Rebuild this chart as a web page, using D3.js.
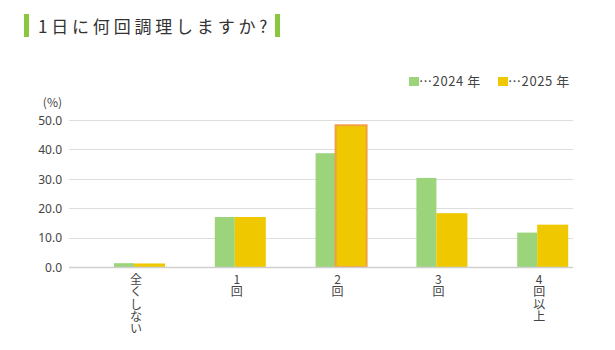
<!DOCTYPE html>
<html><head><meta charset="utf-8">
<script src="https://cdn.jsdelivr.net/npm/d3@7"></script>
<style>body{margin:0;background:#fff}svg{display:block;font-family:"Noto Sans CJK JP","Noto Sans",sans-serif}</style>
</head><body><svg id="c" width="615" height="350"></svg>
<script>
const categories = ["全くしない", "1回", "2回", "3回", "4回以上"];
const categoryLines = [["全","く","し","な","い"], ["1","回"], ["2","回"], ["3","回"], ["4","回","以","上"]];
const seriesNames = ["2024 年", "2025 年"];
const values2024 = [1.3, 17.0, 38.7, 30.3, 11.7];
const values2025 = [1.2, 17.0, 48.2, 18.3, 14.4];
const yTicks = [0, 10, 20, 30, 40, 50];
const highlight2025 = [false, false, true, false, false];

const svg = d3.select("#c");
const colors = ["#9cd47b", "#f0c800"];

// Title
svg.append("rect").attr("x", 24).attr("y", 14).attr("width", 5).attr("height", 23).attr("fill", "#8cc63f");
svg.append("text").attr("x", 38).attr("y", 33).attr("font-size", 17).attr("letter-spacing", 3.8)
  .attr("fill", "#333").text("1日に何回調理しますか?");
svg.append("rect").attr("x", 275).attr("y", 14).attr("width", 5).attr("height", 23).attr("fill", "#8cc63f");

const y = d3.scaleLinear().domain([0, 50]).range([267, 120]);
const x = d3.scaleBand().domain(categories).range([69, 573]).paddingInner(0).paddingOuter(0);

// gridlines
svg.append("g").selectAll("line").data(yTicks.filter(d => d > 0)).join("line")
  .attr("x1", 69).attr("x2", 573).attr("y1", d => Math.round(y(d)) + 0.5).attr("y2", d => Math.round(y(d)) + 0.5)
  .attr("stroke", "#dedede").attr("stroke-width", 1);

// y axis labels
const yAxis = d3.axisLeft(y).tickValues(yTicks).tickFormat(d3.format(".1f")).tickSize(0).tickPadding(0);
const ya = svg.append("g").attr("transform", "translate(62,0)").call(yAxis);
ya.select(".domain").remove();
ya.selectAll("text").attr("font-size", 12).attr("fill", "#444").attr("font-family", "'Noto Sans', sans-serif").attr("dy", "0.35em");
svg.append("text").attr("x", 62).attr("y", 107).attr("text-anchor", "end").attr("font-size", 12).attr("fill", "#444").text("(%)");

// bars
const g = svg.append("g");
const offset = 45, wGreen = 20, wYellow = 31;
g.selectAll(".b24").data(values2024).join("rect")
  .attr("x", (d, i) => x(categories[i]) + offset).attr("width", wGreen)
  .attr("y", d => y(d)).attr("height", d => y(0) - y(d)).attr("fill", colors[0]);
g.selectAll(".b25").data(values2025).join("rect")
  .attr("x", (d, i) => x(categories[i]) + offset + wGreen).attr("width", wYellow)
  .attr("y", d => y(d)).attr("height", d => y(0) - y(d)).attr("fill", colors[1])
  .attr("stroke", (d, i) => highlight2025[i] ? "#f0a040" : "none").attr("stroke-width", 2);

// baseline
svg.append("line").attr("x1", 69).attr("x2", 573).attr("y1", 267.5).attr("y2", 267.5).attr("stroke", "#cfcfcf").attr("stroke-width", 1.5);

// x labels vertical
categories.forEach((c, i) => {
  const cx = x(c) + offset + 25 - 3;
  const t = svg.append("text").attr("text-anchor", "middle").attr("font-size", 12).attr("fill", "#444");
  categoryLines[i].forEach((ch, k) => {
    t.append("tspan").attr("x", cx).attr("y", 284 + k * 12.3).text(ch);
  });
});

// legend
const legend = [{x: 409, name: seriesNames[0], c: colors[0]}, {x: 498, name: seriesNames[1], c: colors[1]}];
legend.forEach(l => {
  svg.append("rect").attr("x", l.x).attr("y", 77).attr("width", 10).attr("height", 9).attr("fill", l.c);
  svg.append("text").attr("x", l.x + 10).attr("y", 86).attr("font-size", 13).attr("letter-spacing", 0.6).attr("fill", "#444").text("…" + l.name);
});
</script></body></html>
